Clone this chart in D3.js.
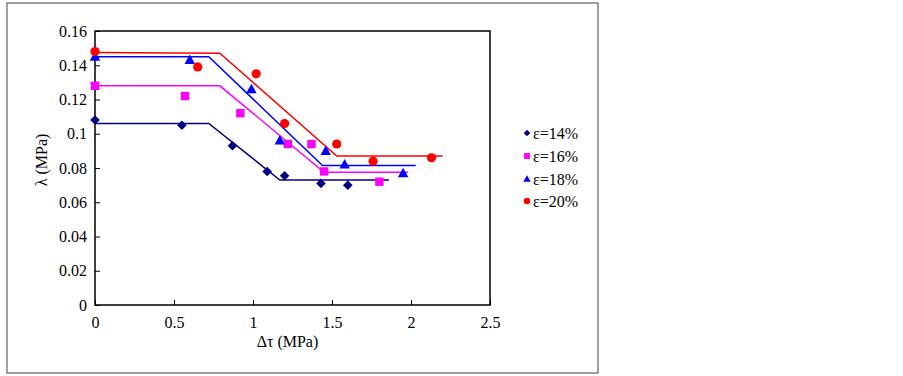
<!DOCTYPE html>
<html><head><meta charset="utf-8">
<script src="https://cdn.jsdelivr.net/npm/d3@7"></script>
<style>body{margin:0;background:#fff;} svg{display:block;} .t{font:16px "Liberation Serif", "Times New Roman", serif;}</style>
</head><body>
<svg id="c" width="903" height="376"></svg>
<script>
const xTicks = [0, 0.5, 1, 1.5, 2, 2.5];
const yTicks = [0, 0.02, 0.04, 0.06, 0.08, 0.1, 0.12, 0.14, 0.16];
const seriesNames = ["ε=14%", "ε=16%", "ε=18%", "ε=20%"];
const seriesColors = ["#000080", "#ff00ff", "#0000ff", "#ff0000"];
const seriesShapes = ["diamond", "square", "triangle", "circle"];
// measured points
const pts14 = [[0,0.108],[0.55,0.105],[0.87,0.093],[1.09,0.078],[1.20,0.0755],[1.43,0.071],[1.60,0.070]];
const pts16 = [[0,0.128],[0.57,0.122],[0.92,0.112],[1.22,0.094],[1.37,0.094],[1.45,0.078],[1.80,0.072]];
const pts18 = [[0,0.145],[0.60,0.143],[0.99,0.126],[1.17,0.096],[1.46,0.090],[1.58,0.082],[1.95,0.077]];
const pts20 = [[0,0.148],[0.65,0.139],[1.02,0.135],[1.20,0.106],[1.53,0.094],[1.76,0.084],[2.13,0.086]];
// fitted piecewise lines
const fit14 = [[0,0.106],[0.72,0.106],[1.17,0.073],[1.86,0.073]];
const fit16 = [[0,0.128],[0.79,0.128],[1.45,0.0775],[1.98,0.0775]];
const fit18 = [[0,0.145],[0.72,0.145],[1.44,0.0815],[2.03,0.0815]];
const fit20 = [[0,0.1475],[0.79,0.147],[1.53,0.087],[2.20,0.087]];

const points = [pts14, pts16, pts18, pts20];
const fits = [fit14, fit16, fit18, fit20];

const svg = d3.select("#c");
function txt(sel){ return sel.attr("class","t"); }

// outer frame
svg.append("rect").attr("x",7).attr("y",3).attr("width",591).attr("height",370)
  .attr("fill","#fff").attr("stroke","#808080").attr("stroke-width",1.5);

const L=95, R=490, T=31, B=305;
const x = d3.scaleLinear().domain([0,2.5]).range([L,R]);
const y = d3.scaleLinear().domain([0,0.16]).range([B,T]);

const fmt = d => d===0 ? "0" : String(+d.toFixed(2));
const xAxis = svg.append("g").attr("transform",`translate(0,${B})`)
  .call(d3.axisBottom(x).tickValues(xTicks).tickFormat(fmt).tickSizeInner(-5).tickSizeOuter(0).tickPadding(12));
const yAxis = svg.append("g").attr("transform",`translate(${L},0)`)
  .call(d3.axisLeft(y).tickValues(yTicks).tickFormat(fmt).tickSizeInner(-5).tickSizeOuter(0).tickPadding(8));
[xAxis,yAxis].forEach(g=>{
  g.attr("font-family",null).attr("font-size",null);
  g.select(".domain").remove();
  g.selectAll("line").attr("stroke","#000").attr("stroke-width",1);
  txt(g.selectAll("text")).attr("fill","#000");
});
// plot frame
svg.append("rect").attr("x",L).attr("y",T).attr("width",R-L).attr("height",B-T)
  .attr("fill","none").attr("stroke","#000").attr("stroke-width",1.5);

const line = d3.line().x(d=>x(d[0])).y(d=>y(d[1]));
fits.forEach((f,i)=>{
  svg.append("path").attr("d",line(f)).attr("fill","none")
    .attr("stroke",seriesColors[i]).attr("stroke-width",1.5);
});

function drawSym(g, shape, color, sx, sy, s){
  let p;
  if(shape==="circle"){
    p = g.append("circle").attr("cx",sx).attr("cy",sy).attr("r",s);
  } else if(shape==="square"){
    p = g.append("rect").attr("x",sx-s).attr("y",sy-s).attr("width",2*s).attr("height",2*s);
  } else if(shape==="diamond"){
    p = g.append("path").attr("d",`M${sx},${sy-s}L${sx+s},${sy}L${sx},${sy+s}L${sx-s},${sy}Z`);
  } else {
    p = g.append("path").attr("d",`M${sx},${sy-s*1.1}L${sx+s*1.05},${sy+s*0.8}L${sx-s*1.05},${sy+s*0.8}Z`);
  }
  p.attr("fill",color);
}
const halfSize = {diamond:4.8, square:4.2, triangle:5, circle:4.6};
points.forEach((p,i)=>{
  const g = svg.append("g");
  p.forEach(d=>drawSym(g, seriesShapes[i], seriesColors[i], x(d[0]), y(d[1]), halfSize[seriesShapes[i]]));
});

// axis titles
txt(svg.append("text")).attr("x",(L+R)/2 - 5).attr("y",347).attr("text-anchor","middle").text("Δτ (MPa)");
txt(svg.append("text")).attr("transform",`translate(47,${(T+B)/2 - 8}) rotate(-90)`).attr("text-anchor","middle").text("λ (MPa)");

// legend
const legY = [133,156,179,201];
seriesNames.forEach((n,i)=>{
  const g = svg.append("g");
  drawSym(g, seriesShapes[i], seriesColors[i], 527, legY[i], halfSize[seriesShapes[i]]*0.7);
  txt(g.append("text")).attr("x",533).attr("y",legY[i]).attr("dy","0.35em").text(n);
});
</script>
</body></html>
